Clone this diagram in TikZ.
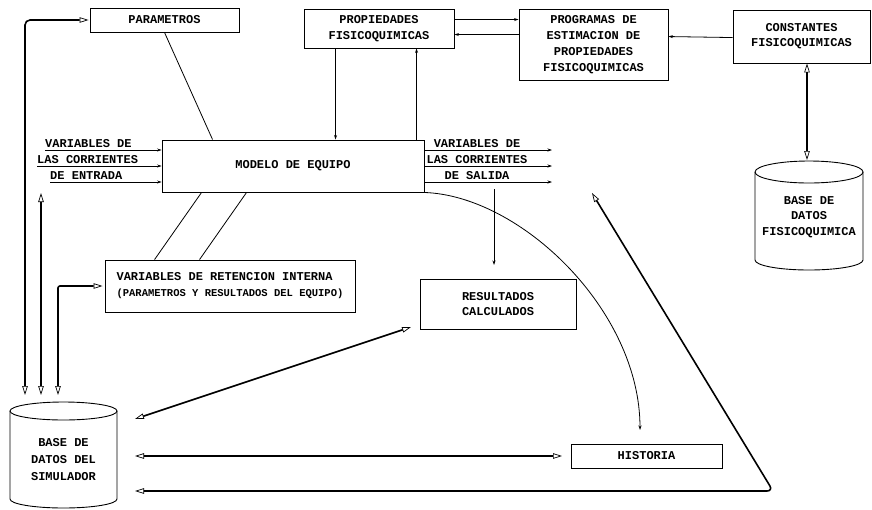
\documentclass[tikz,border=0pt]{standalone}
\usepackage{fontspec}
\newfontfamily\diafont{Liberation Mono}
\usetikzlibrary{arrows.meta,calc}
\begin{document}
\begin{tikzpicture}[x=1pt,y=-1pt,
  txt/.style={font=\diafont\bfseries\fontsize{12}{16}\selectfont},
  box/.style={txt, draw, line width=0.9pt, inner sep=0pt, align=center},
  lbl/.style={txt, inner sep=0pt},
  thinl/.style={line width=0.8pt},
  sm/.style={thinl, -{Stealth[length=4.5pt,width=3pt]}},
  dbl/.style={line width=1.6pt, {Triangle[open,length=9pt,width=5.5pt,line width=0.7pt]}-{Triangle[open,length=9pt,width=5.5pt,line width=0.7pt]}},
  cyl/.style={line width=0.9pt}]
\fill[white] (0,0) rectangle (872,509);
\useasboundingbox (0,0) rectangle (872,509);

% boxes
\node[box, minimum width=149pt, minimum height=24pt] (param) at (164.5,20) {PARAMETROS};
\node[box, minimum width=150pt, minimum height=39pt] (prop) at (379,28.5) {PROPIEDADES\\FISICOQUIMICAS};
\node[box, minimum width=149pt, minimum height=71pt] (prog) at (593.5,44.5) {PROGRAMAS DE\\ESTIMACION DE\\PROPIEDADES\\FISICOQUIMICAS};
\node[box, minimum width=137pt, minimum height=53pt, font=\diafont\bfseries\fontsize{12}{15}\selectfont] (const) at (801.5,36.5) {CONSTANTES\\FISICOQUIMICAS};
\node[box, minimum width=262pt, minimum height=52pt] (modelo) at (293,166) {MODELO DE EQUIPO};
\node[box, minimum width=250pt, minimum height=52pt, align=left] (reten) at (230,286) {VARIABLES DE RETENCION INTERNA\\{\fontsize{10.5}{16}\selectfont (PARAMETROS Y RESULTADOS DEL EQUIPO)}};
\node[box, minimum width=156pt, minimum height=50pt, font=\diafont\bfseries\fontsize{12}{15}\selectfont] (result) at (498,304) {RESULTADOS\\CALCULADOS};
\node[box, minimum width=151pt, minimum height=24pt] (hist) at (646.5,456) {HISTORIA};

% cylinders
\draw[cyl] (809,172) ellipse [x radius=54pt, y radius=11pt];
\draw[cyl] (755,172) -- (755,260) arc[start angle=180,end angle=360,x radius=54pt,y radius=10pt] -- (863,172);
\node[lbl, align=center, font=\diafont\bfseries\fontsize{12}{15.5}\selectfont] (bdf) at (809,217) {BASE DE\\DATOS\\FISICOQUIMICA};

\draw[cyl] (63.5,411) ellipse [x radius=53.5pt, y radius=9pt];
\draw[cyl] (10,411) -- (10,499) arc[start angle=180,end angle=360,x radius=53.5pt,y radius=9pt] -- (117,411);
\node[lbl, align=center, font=\diafont\bfseries\fontsize{12}{17}\selectfont] (simdb) at (63.5,460) {BASE DE\\DATOS DEL\\SIMULADOR};

% input / output stream labels
\node[lbl, anchor=base west] (i1) at (45,147) {VARIABLES DE};
\node[lbl, anchor=base west] (i2) at (37,163) {LAS CORRIENTES};
\node[lbl, anchor=base west] (i3) at (50,179) {DE ENTRADA};
\node[lbl, anchor=base] (o1) at (477,147) {VARIABLES DE};
\node[lbl, anchor=base] (o2) at (477,163) {LAS CORRIENTES};
\node[lbl, anchor=base] (o3) at (477,179) {DE SALIDA};

% free end points
\coordinate (in1) at (45,150);
\coordinate (in2) at (37,166);
\coordinate (in3) at (50,182);
\coordinate (out1) at (552,150);
\coordinate (out2) at (552,166);
\coordinate (out3) at (552,182);
\coordinate (bdftop) at (807,160);
\coordinate (r0) at (494,189);
\coordinate (r1) at (494,265);
\coordinate (h0) at (640,430);
\coordinate (s1) at (135,419);
\coordinate (r2) at (411,327);
\coordinate (s2) at (135,456);
\coordinate (h1) at (562,456);
\coordinate (s3) at (135,491);
\coordinate (k) at (773,491);
\coordinate (t0) at (592,193);
\coordinate (sa) at (25,395);
\coordinate (sb) at (41,395);
\coordinate (sbt) at (41,193);
\coordinate (sc) at (58,395);

% thin connectors
\draw[thinl] (param.south) -- ($(modelo.north west)+(51,0)$);
\draw[sm] ($(prop.south west)+(32,0)$) -- ($(modelo.north west)+(174,0)$);
\draw[sm] ($(modelo.north west)+(255,0)$) -- ($(prop.south west)+(113,0)$);
\draw[sm] ($(prop.north east)+(0,11)$) -- ($(prog.north west)+(0,11)$);
\draw[sm] ($(prog.north west)+(0,26)$) -- ($(prop.north east)+(0,26)$);
\draw[sm] ($(const.north west)+(0,28)$) -- ($(prog.north east)+(0,28)$);
\draw[thinl] ($(modelo.south west)+(40,0)$) -- ($(reten.north west)+(50,0)$);
\draw[thinl] ($(modelo.south west)+(85,0)$) -- ($(reten.north west)+(95,0)$);

\draw[sm] (in1) -- (in1 -| modelo.west);
\draw[sm] (in2) -- (in2 -| modelo.west);
\draw[sm] (in3) -- (in3 -| modelo.west);
\draw[sm] (out1 -| modelo.east) -- (out1);
\draw[sm] (out2 -| modelo.east) -- (out2);
\draw[sm] (out3 -| modelo.east) -- (out3);

\draw[sm] (r0) -- (r1);
\draw[sm] ($(modelo.south east)+(-1,0)$) .. controls (520,195) and (640,310) .. (h0);

% thick double connectors
\draw[dbl] (bdftop |- const.south) -- (bdftop);
\draw[dbl] (s1) -- (r2);
\draw[dbl] (s2) -- (h1);
\draw[dbl, rounded corners=6pt] (s3) -- (k) -- (t0);
\draw[dbl, rounded corners=5pt] (sa) -- (sa |- param.west) -- ($(param.west)+(-1,0)$);
\draw[dbl] (sb) -- (sbt);
\draw[dbl, rounded corners=2pt] (sc) -- (sc |- reten.west) -- ($(reten.west)+(-2,0)$);
\end{tikzpicture}
\end{document}
